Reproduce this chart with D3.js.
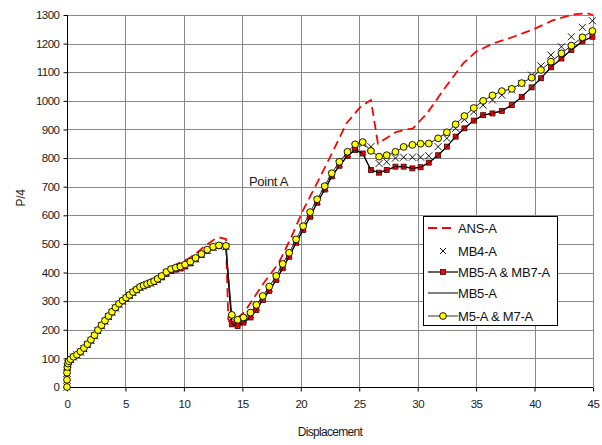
<!DOCTYPE html>
<html>
<head>
<meta charset="utf-8">
<script src="https://cdn.jsdelivr.net/npm/d3@7"></script>
<style>
  html, body { margin: 0; padding: 0; background: #fff; }
  svg { display: block; font-family: "Liberation Sans", Arial, sans-serif; }
</style>
</head>
<body>
<svg id="chart" width="602" height="445"></svg>
<script>
// Displacement values shared by the MB4, MB5/MB7 and M5/M7 series
const disp = [0, 0, 0, 0.03, 0.08, 0.15, 0.3, 0.55, 0.85, 1.15, 1.45, 1.75, 2.05, 2.35, 2.65, 2.95,
  3.25, 3.55, 3.85, 4.15, 4.45, 4.75, 5.05, 5.35, 5.65, 5.95, 6.25, 6.55, 6.85, 7.15, 7.45, 7.75,
  8.1, 8.5, 8.9, 9.3, 9.7, 10.1, 10.55, 11.0, 11.5, 12.0, 12.5, 13.0, 13.6, 14.1, 14.6, 15.1,
  15.7, 16.2, 16.75, 17.3, 17.9, 18.45, 19.0, 19.6, 20.2, 20.8, 21.4, 22.05, 22.65, 23.3, 24.0,
  24.65, 25.3, 26.0, 26.7, 27.35, 28.1, 28.8, 29.55, 30.25, 30.95, 31.75, 32.5, 33.25, 34.0,
  34.8, 35.6, 36.4, 37.2, 38.05, 38.9, 39.75, 40.55, 41.4, 42.3, 43.15, 44.1, 44.95];

// M5-A & M7-A (yellow circles)
const m57 = [0, 25, 50, 70, 82, 90, 97, 106, 113, 124, 136, 150, 165, 181, 199, 216,
  232, 248, 263, 278, 291, 302, 312, 322, 332, 341, 350, 355, 360, 365, 370, 378,
  388, 402, 412, 417, 421, 428, 438, 451, 465, 480, 490, 495, 493, 252, 235, 243,
  260, 287, 318, 351, 388, 430, 469, 516, 562, 611, 656, 702, 747, 787, 822,
  848, 856, 825, 805, 810, 822, 839, 846, 850, 851, 869, 890, 918, 947,
  975, 1000, 1019, 1034, 1042, 1062, 1081, 1108, 1137, 1166, 1193, 1222, 1244];

// MB5-A & MB7-A (red squares)
const mb57 = [0, 24, 48, 68, 80, 88, 95, 104, 111, 121, 133, 147, 162, 178, 196, 213,
  229, 245, 260, 275, 288, 299, 309, 319, 329, 338, 347, 352, 357, 362, 367, 374,
  383, 395, 405, 410, 414, 421, 432, 446, 461, 476, 487, 492, 490, 219, 213, 225,
  243, 269, 304, 336, 374, 415, 455, 504, 549, 595, 644, 690, 736, 773, 808,
  828, 816, 758, 749, 758, 770, 770, 764, 768, 784, 810, 840, 875, 904,
  931, 950, 956, 965, 985, 1014, 1047, 1079, 1117, 1148, 1178, 1208, 1224];

// MB5-A (plain line)
const mb5 = [0, 24, 48, 68, 80, 88, 95, 104, 111, 121, 133, 147, 162, 178, 196, 213,
  229, 245, 260, 275, 288, 299, 309, 319, 329, 338, 347, 352, 357, 362, 367, 374,
  383, 395, 405, 410, 414, 421, 432, 446, 461, 476, 487, 492, 490, 219, 213, 225,
  243, 269, 304, 336, 374, 415, 455, 504, 549, 595, 644, 690, 736, 773, 808,
  828, 816, 758, 749, 758, 770, 770, 764, 768, 784, 810, 840, 875, 904,
  931, 950, 956, 965, 985, 1014, 1047, 1079, 1117, 1148, 1178, 1208, 1224];

// MB4-A (crosses)
const mb4 = [0, 25, 49, 69, 81, 89, 96, 105, 112, 122, 134, 148, 163, 179, 197, 214,
  230, 246, 261, 276, 289, 300, 310, 320, 330, 339, 348, 353, 358, 363, 368, 376,
  386, 399, 408, 413, 417, 424, 435, 448, 463, 478, 488, 493, 491, 240, 226, 236,
  252, 279, 311, 344, 381, 423, 462, 510, 556, 603, 650, 696, 741, 780, 815,
  840, 850, 840, 781, 787, 800, 803, 803, 803, 808, 840, 869, 904, 935,
  962, 985, 1003, 1020, 1038, 1061, 1090, 1122, 1160, 1189, 1224, 1257, 1280];

// ANS-A (dashed analysis curve)
const ansX = [0, 0, 0.05, 0.3, 1, 2, 3, 4, 5, 6, 7, 7.7, 8.5, 9.4, 10.2, 11, 11.7, 12.5, 13.0,
  13.6, 13.8, 14.2, 15.2, 16.8, 18.1, 19.2, 20.2, 21.6, 22.8, 23.9, 25.1, 26.0, 26.6, 28.2,
  29.6, 30.8, 32.2, 33.9, 35.0, 36.5, 38.2, 39.9, 41.6, 43.3, 44.5, 45];
const ansY = [0, 50, 80, 97, 118, 162, 219, 271, 309, 345, 363, 377, 405, 430, 444, 465, 490, 513, 523,
  517, 235, 228, 263, 362, 432, 525, 618, 729, 828, 921, 979, 1003, 851, 892,
  904, 956, 1038, 1131, 1172, 1201, 1224, 1250, 1282, 1302, 1306, 1300];

const xTicks = [0, 5, 10, 15, 20, 25, 30, 35, 40, 45];
const yTicks = [0, 100, 200, 300, 400, 500, 600, 700, 800, 900, 1000, 1100, 1200, 1300];

const legendLabels = ["ANS-A", "MB4-A", "MB5-A & MB7-A", "MB5-A", "M5-A & M7-A"];

const svg = d3.select("#chart");
const plotL = 67, plotR = 593, plotT = 15, plotB = 387;

const x = d3.scaleLinear().domain([0, 45]).range([plotL, plotR]);
const y = d3.scaleLinear().domain([0, 1300]).range([plotB, plotT]);

// grid
const grid = svg.append("g").attr("stroke", "#888").attr("stroke-width", 1);
grid.selectAll("line.h").data(yTicks.slice(1)).join("line")
  .attr("x1", plotL).attr("x2", plotR)
  .attr("y1", d => Math.round(y(d)) + 0.5).attr("y2", d => Math.round(y(d)) + 0.5);
grid.selectAll("line.v").data(xTicks.slice(1)).join("line")
  .attr("x1", d => Math.round(x(d)) + 0.5).attr("x2", d => Math.round(x(d)) + 0.5)
  .attr("y1", plotT).attr("y2", plotB);

// axes
const xAxis = d3.axisBottom(x).tickValues(xTicks).tickSize(4).tickPadding(8)
  .tickFormat(d3.format("d"));
const yAxis = d3.axisLeft(y).tickValues(yTicks).tickSize(4).tickPadding(4)
  .tickFormat(d3.format("d"));
const gx = svg.append("g").attr("transform", `translate(0,${plotB + 0.5})`).call(xAxis);
const gy = svg.append("g").attr("transform", `translate(${plotL + 0.5},0)`).call(yAxis);
[gx, gy].forEach(g => {
  g.select(".domain").attr("stroke", "#000");
  g.selectAll(".tick line").attr("stroke", "#000");
  g.selectAll("text").attr("fill", "#1a1a1a").style("font-size", "11.5px")
    .style("font-family", "'Liberation Sans', Arial, sans-serif").style("letter-spacing", "-0.5px");
});
gx.select(".domain").attr("d", `M${plotL},0H${plotR}`);
gy.select(".domain").attr("d", `M0,${plotT}V${plotB}`);

// axis titles
svg.append("text").attr("x", 330).attr("y", 436).attr("text-anchor", "middle")
  .style("font-size", "12px").style("letter-spacing", "-0.7px").attr("fill", "#1a1a1a").text("Displacement");
svg.append("text").attr("transform", "translate(25,198) rotate(-90)").attr("text-anchor", "middle")
  .style("font-size", "12px").style("letter-spacing", "-0.4px").attr("fill", "#1a1a1a").text("P/4");

// annotation
svg.append("text").attr("x", 249).attr("y", 186)
  .style("font-size", "13px").style("letter-spacing", "-0.3px").attr("fill", "#1a1a1a").text("Point A");

const line = d3.line().x(d => x(d[0])).y(d => y(d[1]));

// ANS-A
const ansPts = ansX.map((d, i) => [d, ansY[i]]);
svg.append("path").datum(ansPts).attr("d", line).attr("fill", "none")
  .attr("stroke", "#ff0000").attr("stroke-width", 1.8).attr("stroke-dasharray", "9,5");

// MB4-A crosses
const crossPts = disp.map((d, i) => [d, mb4[i]]);
svg.append("g").selectAll("path").data(crossPts).join("path")
  .attr("transform", d => `translate(${x(d[0])},${y(d[1])})`)
  .attr("d", "M-3.5,-3.5L3.5,3.5M-3.5,3.5L3.5,-3.5")
  .attr("stroke", "#000").attr("stroke-width", 0.9).attr("fill", "none");

// MB5-A & MB7-A
const sqPts = disp.map((d, i) => [d, mb57[i]]);
svg.append("path").datum(sqPts).attr("d", line).attr("fill", "none")
  .attr("stroke", "#000").attr("stroke-width", 1.2);
svg.append("g").selectAll("rect").data(sqPts).join("rect")
  .attr("x", d => x(d[0]) - 2.5).attr("y", d => y(d[1]) - 2.5)
  .attr("width", 5).attr("height", 5)
  .attr("fill", "#ff0000").attr("stroke", "#400").attr("stroke-width", 0.8);

// MB5-A
const mb5Pts = disp.map((d, i) => [d, mb5[i]]);
svg.append("path").datum(mb5Pts).attr("d", line).attr("fill", "none")
  .attr("stroke", "#000").attr("stroke-width", 1);

// M5-A & M7-A
const cPts = disp.map((d, i) => [d, m57[i]]);
svg.append("path").datum(cPts).attr("d", line).attr("fill", "none")
  .attr("stroke", "#222").attr("stroke-width", 1);
svg.append("g").selectAll("circle").data(cPts).join("circle")
  .attr("cx", d => x(d[0])).attr("cy", d => y(d[1])).attr("r", 3.4)
  .attr("fill", "#ffff00").attr("stroke", "#000").attr("stroke-width", 0.9);

// legend
const lg = svg.append("g");
lg.append("rect").attr("x", 423.5).attr("y", 216.5).attr("width", 134).attr("height", 109)
  .attr("fill", "#fff").attr("stroke", "#000").attr("stroke-width", 1);
const rowY = [228, 251, 272, 293, 316];
lg.selectAll("text").data(legendLabels).join("text")
  .attr("x", 458).attr("y", (d, i) => rowY[i] + 4.5)
  .style("font-size", "13px").style("letter-spacing", "-0.2px").attr("fill", "#111").text(d => d);
lg.append("line").attr("x1", 428).attr("x2", 452).attr("y1", rowY[0]).attr("y2", rowY[0])
  .attr("stroke", "#ff0000").attr("stroke-width", 1.8).attr("stroke-dasharray", "9,5");
lg.append("path").attr("transform", `translate(443,${rowY[1]})`)
  .attr("d", "M-3,-3L3,3M-3,3L3,-3").attr("stroke", "#000").attr("stroke-width", 0.9);
lg.append("line").attr("x1", 428).attr("x2", 458).attr("y1", rowY[2]).attr("y2", rowY[2])
  .attr("stroke", "#000").attr("stroke-width", 1.2);
lg.append("rect").attr("x", 440.5).attr("y", rowY[2] - 2.5).attr("width", 5).attr("height", 5)
  .attr("fill", "#ff0000").attr("stroke", "#400").attr("stroke-width", 0.8);
lg.append("line").attr("x1", 428).attr("x2", 458).attr("y1", rowY[3]).attr("y2", rowY[3])
  .attr("stroke", "#000").attr("stroke-width", 1);
lg.append("line").attr("x1", 428).attr("x2", 458).attr("y1", rowY[4]).attr("y2", rowY[4])
  .attr("stroke", "#555").attr("stroke-width", 1.2);
lg.append("circle").attr("cx", 443).attr("cy", rowY[4]).attr("r", 3.4)
  .attr("fill", "#ffff00").attr("stroke", "#000").attr("stroke-width", 0.9);
</script>
</body>
</html>
